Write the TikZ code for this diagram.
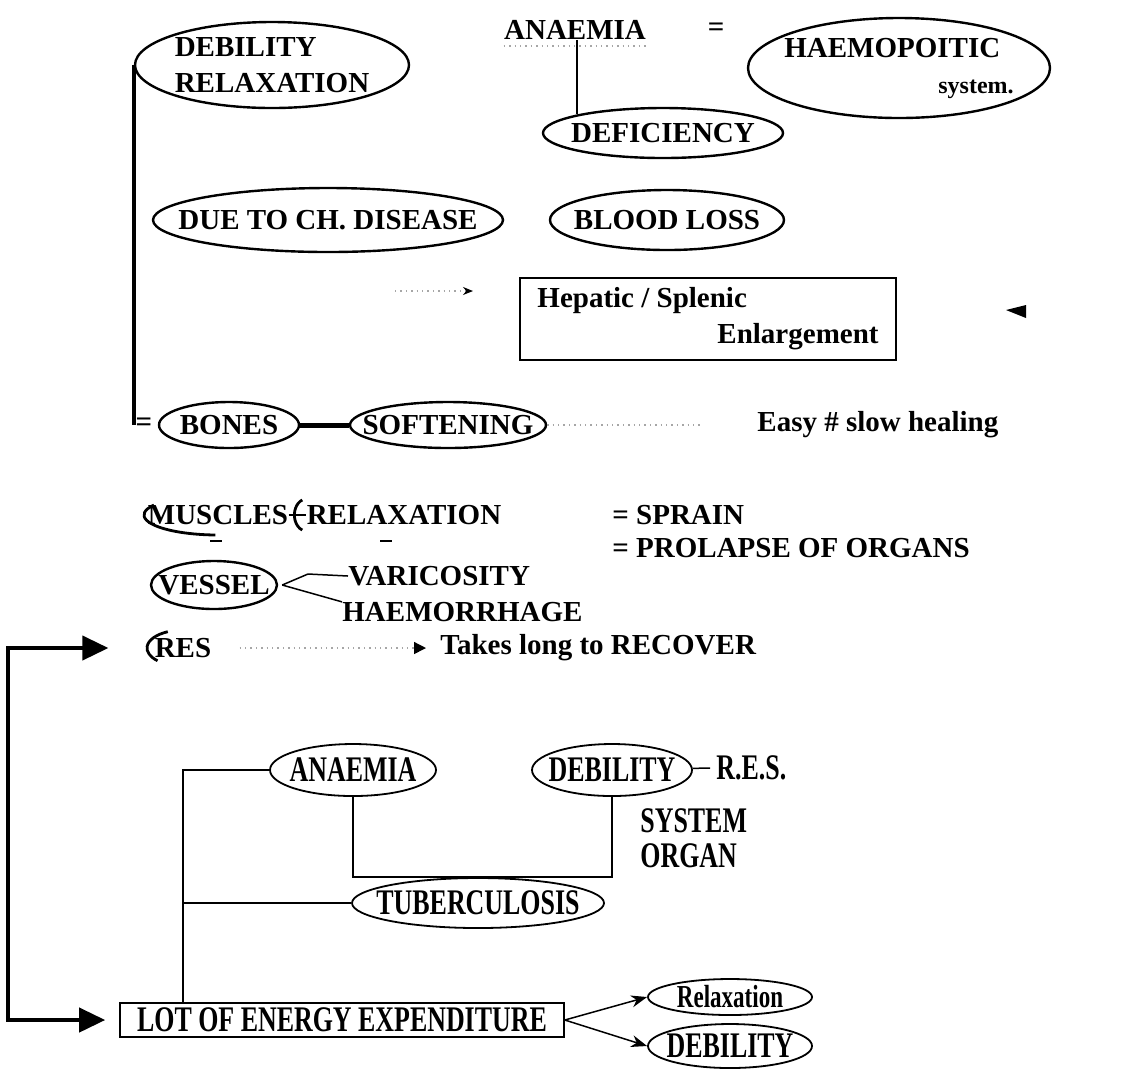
\documentclass[tikz,border=0pt]{standalone}
\usepackage{fontspec}
\setmainfont{Liberation Serif}
\newfontfamily\narrowfont[FakeStretch=0.72]{Liberation Serif}
\usepackage{tikz}
\usetikzlibrary{shapes.geometric,arrows.meta,positioning,calc}

\begin{document}
\begin{tikzpicture}[x=0.5pt,y=-0.5pt,
   oval/.style={draw,ellipse,line width=1.2pt,inner sep=-50pt,font=\bfseries\fontsize{14.5}{18}\selectfont},
   word/.style={inner sep=0pt,font=\bfseries\fontsize{14.5}{18}\selectfont},
   loval/.style={draw,ellipse,line width=0.9pt,inner sep=-50pt,font=\narrowfont\bfseries\fontsize{18}{18}\selectfont},
   lword/.style={inner sep=0pt,font=\narrowfont\bfseries\fontsize{18}{17.5}\selectfont},
   faint/.style={black!35,dotted,line width=0.7pt},
   big/.style={line width=2pt,{Triangle[length=13pt,width=12pt]}-{Triangle[length=13pt,width=12pt]}},
   thinline/.style={line width=0.75pt}]
\useasboundingbox (0,0) rectangle (1122,1089);

  \node[oval,minimum width=137pt,minimum height=43pt,align=left] (debrel) at (272,65) {DEBILITY\\RELAXATION};
 \node[word] (anaemia) at (575,30) {ANAEMIA};
 \node[word] (eqa) at (716,30) {=};
  \node[oval,minimum width=151pt,minimum height=50pt,align=left] (haemo) at (899,68) {HAEMOPOITIC\\\hspace*{77pt}{\fontsize{12}{14}\selectfont system.}};
 \node[oval,minimum width=120pt,minimum height=25pt] (defic) at (663,133) {DEFICIENCY};
   \draw[line width=1pt] (anaemia.south -| defic.north west) -- (defic.north west);
   \draw[faint] ([yshift=-3pt]anaemia.south west) -- ([yshift=-3pt]anaemia.south east);

 \node[oval,minimum width=175pt,minimum height=32pt] (chdis) at (328,220) {DUE TO CH.\ DISEASE};
 \node[oval,minimum width=117pt,minimum height=30pt] (blood) at (667,220) {BLOOD LOSS};
  \node[draw,line width=0.8pt,minimum width=188pt,minimum height=41pt,word,align=left] (hepatic) at (708,319) {Hepatic / Splenic\\\hspace*{90pt}Enlargement};
   \coordinate (hepl) at (395,291);
   \draw[faint,-{Stealth[length=5pt,width=4pt,color=black]}] (hepl) -- ++(78,0);
   \fill (1006,310) -- (1026,305) -- (1026,318) -- cycle;

 \node[word] (eqb) at (144,425) {=};
   \draw[line width=2pt] (debrel.west) -- (debrel.west |- eqb);
 \node[oval,minimum width=70pt,minimum height=23pt] (bones) at (229,425) {BONES};
 \node[oval,minimum width=98pt,minimum height=23pt] (soft) at (448,425) {SOFTENING};
   \draw[line width=2.5pt] (bones) -- (soft);
 \node[word,anchor=west] (easy) at (757,425) {Easy \# slow healing};
   \draw[faint] (soft.east) -- ([xshift=-28pt]easy.west);

 \node[word] (muscles) at (218,515) {MUSCLES};
   \draw[line width=1.4pt] ([shift={(150:37pt and 10pt)}]muscles.center) arc[start angle=150,end angle=268,x radius=37pt,y radius=10pt];
 \node[word] (relax) at (404,515) {RELAXATION};
   \draw[line width=1pt] (muscles) -- (relax);
   \draw[line width=1.4pt] ([shift={(110:6pt and 8pt)}]relax.west) arc[start angle=110,end angle=250,x radius=6pt,y radius=8pt];
   \draw[line width=1pt] ([xshift=-4pt,yshift=-8pt]muscles.south) -- ([xshift=2pt,yshift=-8pt]muscles.south);
   \draw[line width=1pt] ([xshift=-12pt,yshift=-8pt]relax.south) -- ([xshift=-6pt,yshift=-8pt]relax.south);
 \node[word,anchor=west] (sprain) at (612,515) {= SPRAIN};
 \node[word,anchor=west] (prolapse) at (612,548) {= PROLAPSE OF ORGANS};

 \node[oval,minimum width=63pt,minimum height=24pt] (vessel) at (214,585) {VESSEL};
 \node[word,anchor=west] (varic) at (348,576) {VARICOSITY};
 \node[word,anchor=west] (haemor) at (342,612) {HAEMORRHAGE};
   \draw[thinline] ([xshift=2pt]vessel.east) -- ([xshift=-20pt,yshift=1pt]varic.west) -- (varic.west);
   \draw[thinline] ([xshift=2pt]vessel.east) -- (haemor.north west);

 \node[word] (res) at (183,648) {RES};
   \draw[line width=1.4pt] ([shift={(115:18pt and 9pt)}]res.center) arc[start angle=115,end angle=225,x radius=18pt,y radius=9pt];
 \node[word,anchor=west] (takes) at (440,648) {Takes long to RECOVER};
   \draw[faint,-{Triangle[length=6pt,width=6pt,color=black]}] ([xshift=14pt]res.east) -- ([xshift=-7pt]takes.west);

 \node[loval,minimum width=83pt,minimum height=26pt] (anaemiab) at (353,770) {ANAEMIA};
 \node[loval,minimum width=80pt,minimum height=26pt] (debilityb) at (612,770) {DEBILITY};
 \node[lword,anchor=west] (resb) at (716,768) {R.E.S.};
 \node[lword,anchor=west,align=left] (sysorg) at (640,838) {SYSTEM\\ORGAN};
 \node[loval,minimum width=126pt,minimum height=25pt] (tuberc) at (478,903) {TUBERCULOSIS};
 \node[draw,line width=0.8pt,lword,minimum width=222pt,minimum height=17pt] (lot) at (342,1020) {LOT OF ENERGY EXPENDITURE};
 \node[loval,minimum width=82pt,minimum height=18pt,font=\narrowfont\bfseries\fontsize{16}{16}\selectfont] (relaxb) at (730,997) {Relaxation};
 \node[loval,minimum width=82pt,minimum height=22pt] (debilityc) at (730,1046) {DEBILITY};

   \draw[big] ([xshift=-23pt]res.west) -- ++(-100,0) |- ([xshift=-7pt]lot.west);
   \coordinate (trunk) at (183,770);
   \draw[thinline] (anaemiab.west) -- (trunk) -- (trunk |- lot.north);
   \draw[thinline] (trunk |- tuberc) -- (tuberc.west);
   \coordinate (brk) at (490,877);
   \draw[thinline] (anaemiab.south) |- (brk) -| (debilityb.south);
   \draw[thinline] (brk) -- (brk |- tuberc.north);
   \draw[thinline] (debilityb) -- ([xshift=-3pt]resb.west);
   \draw[thinline,-{Stealth[length=8pt,width=6pt]}] (lot.east) -- (relaxb.west);
   \draw[thinline,-{Stealth[length=8pt,width=6pt]}] (lot.east) -- (debilityc.west);
\end{tikzpicture}
\end{document}
